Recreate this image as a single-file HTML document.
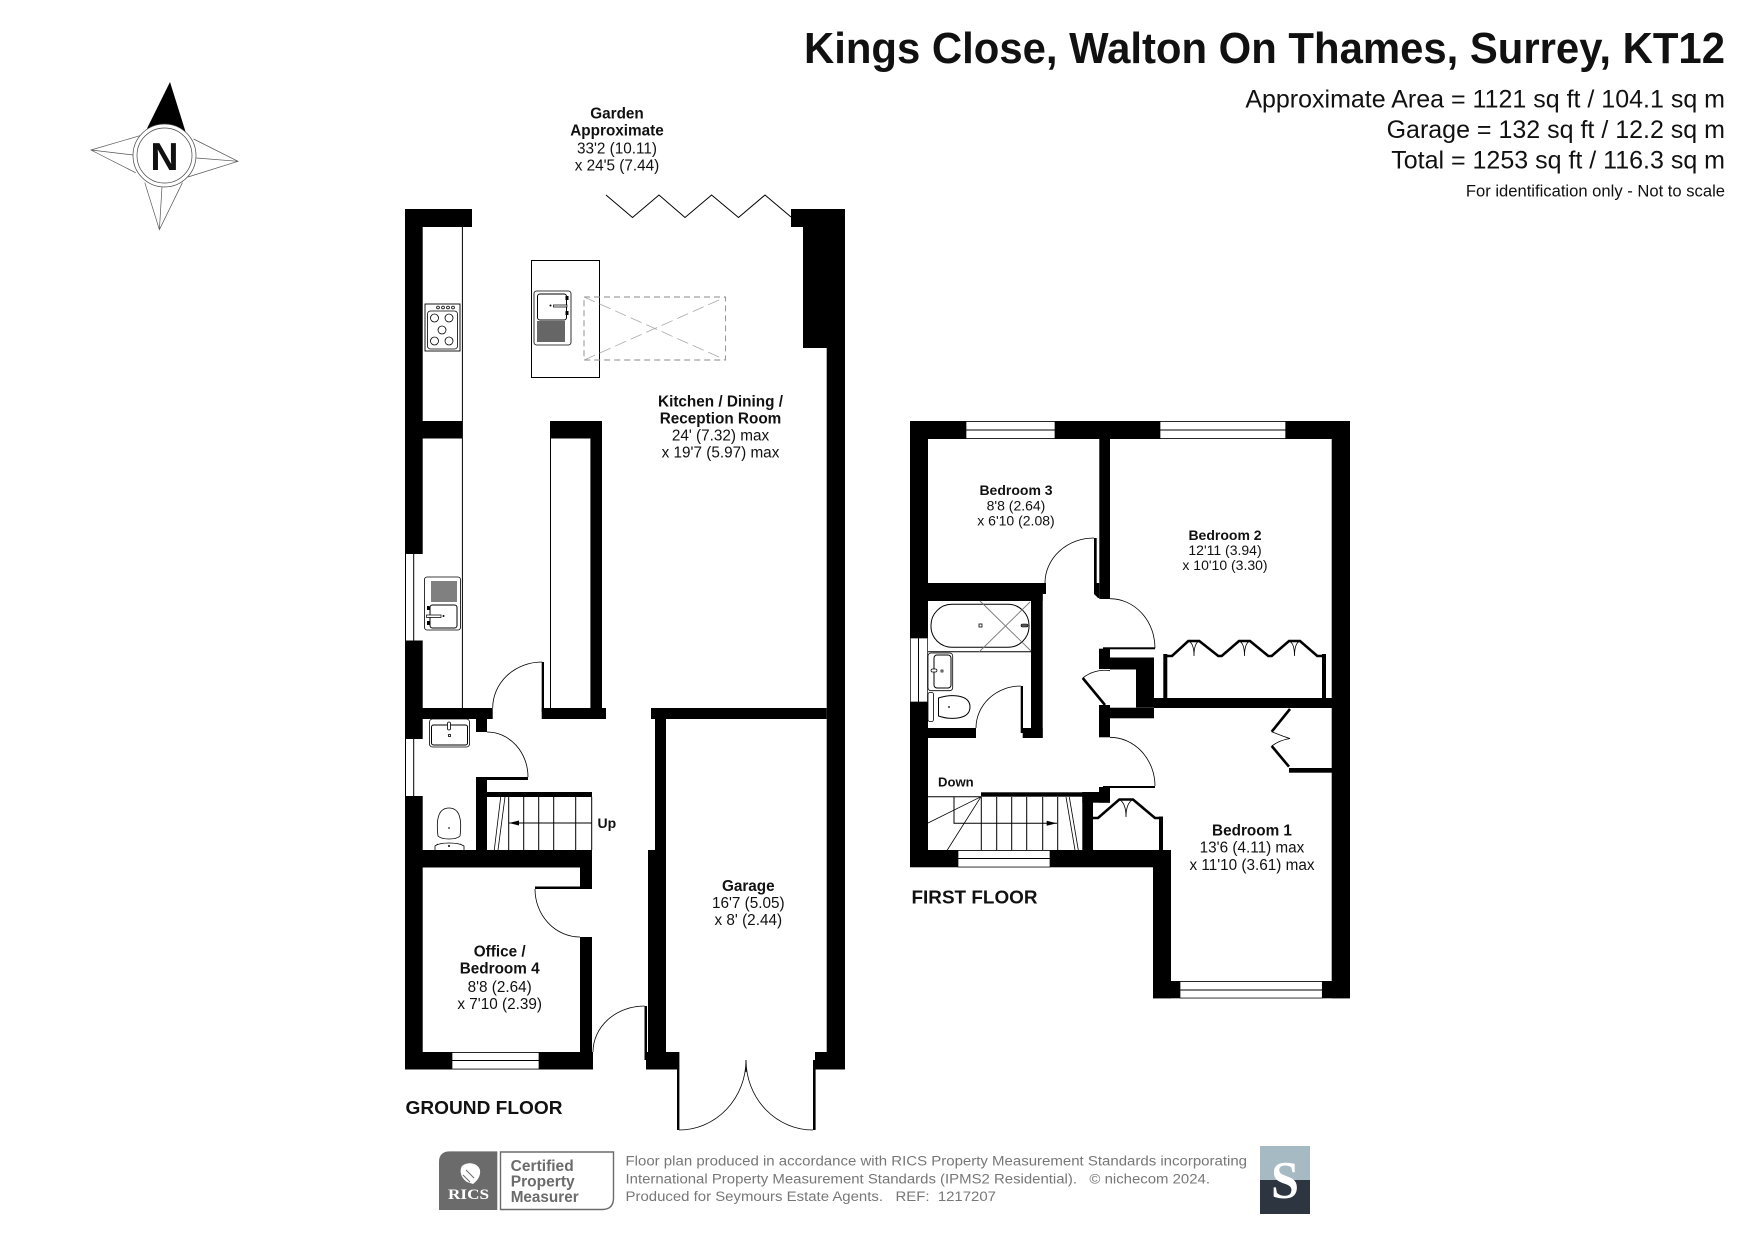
<!DOCTYPE html>
<html><head><meta charset="utf-8"><style>
html,body{margin:0;padding:0;background:#fff}
svg{display:block}
text{font-family:"Liberation Sans",sans-serif;fill:#111;white-space:pre}
.b{font-weight:bold}
.m{text-anchor:middle;font-size:15.3px}
.s{font-size:14px}
.l{fill:none;stroke:#000;stroke-width:1}
.t{fill:none;stroke:#000;stroke-width:.8}
.h{fill:none;stroke:#000;stroke-width:2.6}
.g{fill:none;stroke:#777;stroke-width:.9}
</style></head><body>
<svg width="1755" height="1241" viewBox="0 0 1755 1241" xmlns="http://www.w3.org/2000/svg">
<rect width="1755" height="1241" fill="#fff"/>

<!-- Header -->
<text class="b" x="1725" y="63" text-anchor="end" font-size="44" textLength="921" lengthAdjust="spacingAndGlyphs">Kings Close, Walton On Thames, Surrey, KT12</text>
<text x="1725" y="107.5" text-anchor="end" font-size="25">Approximate Area = 1121 sq ft / 104.1 sq m</text>
<text x="1725" y="138" text-anchor="end" font-size="25">Garage = 132 sq ft / 12.2 sq m</text>
<text x="1725" y="168.5" text-anchor="end" font-size="25">Total = 1253 sq ft / 116.3 sq m</text>
<text x="1725" y="196.5" text-anchor="end" font-size="16.6">For identification only - Not to scale</text>

<!-- Compass -->
<g>
<path d="M147 128.5L170 82L185.8 132.5Z" fill="#000"/>
<path fill="none" stroke="#555" stroke-width=".7" d="M140.3 135.6L91 150L135.8 172.8M91 150L133.6 155M193.6 139L238 161.3L188 177M238 161.3L196.4 158M144.8 182.7L159.4 229.7L182.4 182.7M159.4 229.7L162 186.6"/>
<circle cx="164.5" cy="155.5" r="31.5" fill="#fff" stroke="#444" stroke-width=".7"/>
<circle cx="164.5" cy="155.5" r="27.5" fill="none" stroke="#444" stroke-width=".7"/>
<text class="b" x="164.5" y="170" text-anchor="middle" font-size="39">N</text>
</g>

<!-- Ground floor walls -->
<g fill="#000">
<rect x="405" y="209" width="67" height="18"/>
<rect x="405" y="209" width="17.7" height="345"/>
<rect x="405" y="640.5" width="17.7" height="98.5"/>
<rect x="405" y="796" width="17.7" height="273.5"/>
<path d="M791 209H845V1069.5H815V1052H826.7V348H803V227H791Z"/>
<rect x="422" y="421" width="40.5" height="17.5"/>
<path d="M550 421H602V708H590.4V438.5H550Z"/>
<rect x="422" y="708" width="70.7" height="11"/>
<rect x="476" y="719" width="11" height="13"/>
<rect x="541.7" y="662" width="2.3" height="50"/>
<rect x="541.7" y="708" width="64.3" height="11"/>
<rect x="651" y="708" width="175.7" height="11"/>
<path d="M655 719H666V1052H678V1069.5H646V1052H648V850H655Z"/>
<rect x="644.5" y="1006" width="2.5" height="54"/>
<rect x="476" y="778" width="11" height="75"/>
<rect x="476" y="777" width="52" height="3"/>
<rect x="487" y="792" width="105" height="5"/>
<rect x="405" y="850" width="187" height="17.5"/>
<rect x="580" y="867" width="12" height="21.5"/>
<rect x="535" y="886.5" width="57" height="2.5"/>
<rect x="580" y="937" width="12" height="120"/>
<rect x="405" y="1052" width="188" height="17.5"/>
<rect x="677" y="1052" width="2.4" height="78"/>
<rect x="813" y="1060" width="2.6" height="70"/>
</g>
<!-- Ground floor windows -->
<rect x="405.5" y="554" width="17" height="86.5" fill="#fff"/>
<path class="l" d="M405.5 554V640.5M413.7 554V640.5M405.5 739V796M413.7 739V796"/>
<rect x="452" y="1052.5" width="87" height="16.5" fill="#fff" stroke="#000" stroke-width=".7"/>
<path class="l" d="M452 1060.5H539"/>
<!-- Kitchen lines -->
<path class="l" d="M462.4 227V708M550.5 438V708"/>
<rect x="531.5" y="260.5" width="68" height="117" fill="#fff" stroke="#000" stroke-width="1"/>
<path class="l" d="M606 195L632.5 217.5L659 195L685 217.5L711.6 195L738.5 217.5L765 195L791 217"/>
<!-- Dashed skylight -->
<path d="M584 297H725.6V360H584Z" fill="none" stroke="#888" stroke-width=".9" stroke-dasharray="6 4"/>
<path d="M584 297L725.6 360M584 360L725.6 297" fill="none" stroke="#aaa" stroke-width=".8" stroke-dasharray="12 5"/>
<!-- Hob -->
<rect x="425" y="304" width="35" height="47" fill="#fff" stroke="#000" stroke-width=".9"/>
<rect x="427.5" y="311" width="30" height="38" rx="3" class="t"/>
<g class="t"><circle cx="434.5" cy="318" r="4"/><circle cx="449" cy="318" r="4"/><circle cx="442" cy="330" r="4"/><circle cx="434.5" cy="341" r="4"/><circle cx="449" cy="341" r="4"/>
<circle cx="438" cy="307.5" r="1.4"/><circle cx="443" cy="307.5" r="1.4"/><circle cx="448" cy="307.5" r="1.4"/><circle cx="453" cy="307.5" r="1.4"/></g>
<!-- Island sink -->
<rect x="534" y="291" width="37" height="54" rx="2.5" class="t"/>
<rect x="537.5" y="294" width="29" height="26" rx="2.5" class="l"/>
<path d="M553.5 305H567V307H553.5Z" fill="#fff" stroke="#000" stroke-width=".7"/><circle cx="550.5" cy="305.5" r="1" fill="#000"/>
<rect x="565.5" y="296" width="3" height="4" fill="#000"/><rect x="565.5" y="311" width="3" height="4" fill="#000"/>
<path d="M538 321V342M540 321V342M542 321V342M544 321V342M546 321V342M548 321V342M550 321V342M552 321V342M554 321V342M556 321V342M558 321V342M560 321V342M562 321V342M564 321V342" stroke="#000" stroke-width="1.2"/>
<!-- Wall sink -->
<rect x="424.5" y="577" width="36" height="53" rx="2.5" class="t"/>
<rect x="430" y="605" width="27" height="23" rx="2.5" class="l"/>
<path d="M426.5 615H441V617.5H426.5Z" fill="#fff" stroke="#000" stroke-width=".7"/><circle cx="443.5" cy="616" r="1" fill="#000"/>
<rect x="427" y="606" width="2.5" height="4" fill="#000"/><rect x="427" y="621" width="2.5" height="4" fill="#000"/>
<path d="M432 581V602M434 581V602M436 581V602M438 581V602M440 581V602M442 581V602M444 581V602M446 581V602M448 581V602M450 581V602M452 581V602M454 581V602M456 581V602" stroke="#000" stroke-width="1.2" shape-rendering="crispEdges"/>
<!-- Basin and WC -->
<rect x="429.5" y="719" width="40" height="28" rx="3" class="t"/>
<rect x="431.5" y="725" width="36" height="20" rx="2" class="l"/>
<rect x="447.5" y="722" width="3" height="8" rx="1.5" fill="#fff" stroke="#000" stroke-width=".8"/>
<rect x="448.5" y="734.5" width="2" height="2" fill="#fff" stroke="#000" stroke-width=".8"/>
<path class="t" d="M438 836C436 820 438 808 449 808C460 808 462 820 460 836C456 840 442 840 438 836Z"/>
<path class="t" d="M438 844L435 846V850M460 844L464 846V850M435 846C440 842 458 842 464 846"/>
<circle cx="449" cy="828" r="1" fill="#555"/><circle cx="449" cy="846" r="1" fill="#000"/>
<!-- Doors GF -->
<g class="t">
<path d="M492.7 708A49.3 46 0 0 1 542 662"/>
<path d="M487 732A41 45 0 0 1 528 777"/>
<path d="M535 889A45 48 0 0 0 580 937"/>
<path d="M593 1052A51.5 46 0 0 1 644.5 1006"/>
<path d="M679 1130A67 70 0 0 0 746 1060"/>
<path d="M813 1130A67 70 0 0 1 746 1060"/>
<path d="M746 1060V1072"/>
</g>
<!-- GF stairs -->
<path class="l" d="M508.7 797V850M523.7 797V850M538.7 797V850M553.7 797V850M575.7 797V850M591.7 797V850M508.7 823H591.7"/>
<path class="t" d="M500.7 797L494.3 850M505 797L498 850"/>
<path d="M509 823L519 820.5V825.5Z" fill="#000"/>

<!-- First floor walls -->
<g fill="#000">
<rect x="910" y="421" width="440" height="18"/>
<rect x="910" y="421" width="18" height="217"/>
<rect x="910" y="702" width="18" height="165"/>
<rect x="1331.7" y="421" width="18.3" height="577.3"/>
<rect x="1099.3" y="439" width="10.7" height="160"/>
<path d="M1094 538H1096.7V583H1099.3V598H1098L1094 594Z"/>
<rect x="928" y="583" width="118" height="11"/>
<rect x="928" y="594" width="114.7" height="7"/>
<rect x="1031" y="583" width="11.7" height="155"/>
<rect x="928" y="728" width="48" height="10"/>
<rect x="1022.7" y="728" width="20" height="10"/>
<rect x="1020.7" y="686" width="2.3" height="47"/>
<rect x="1099" y="648.7" width="11" height="20.3"/>
<rect x="1103" y="647.3" width="52" height="2"/>
<rect x="1110" y="657.5" width="44" height="12"/>
<rect x="1136" y="657.5" width="18" height="50"/>
<rect x="1154" y="698" width="178" height="10"/>
<rect x="1110" y="707.7" width="44" height="10.6"/>
<rect x="1099" y="705" width="11" height="32.3"/>
<rect x="1103" y="786" width="52" height="2"/>
<rect x="1099" y="787" width="11" height="15.7"/>
<rect x="1082.3" y="792" width="27.7" height="10.7"/>
<rect x="981" y="792.3" width="118" height="4.4"/>
<rect x="1082.3" y="792" width="10.7" height="58"/>
<rect x="910" y="850" width="261" height="17.3"/>
<rect x="1153" y="850" width="18" height="148.3"/>
<rect x="1153" y="981" width="197" height="17.3"/>
<rect x="1163.3" y="654" width="4" height="44"/>
<rect x="1322" y="654" width="4" height="44"/>
<rect x="1159" y="816.5" width="4" height="34"/>
<rect x="1289" y="768" width="43" height="4.7"/>
</g>
<!-- FF windows -->
<g fill="#fff" stroke="#000" stroke-width=".7">
<rect x="966" y="421.5" width="89" height="17"/>
<rect x="1160" y="421.5" width="125.7" height="17"/>
<rect x="958" y="850.5" width="92" height="16.5"/>
<rect x="1180" y="981.5" width="142.3" height="16.5"/>
<rect x="910.5" y="638" width="17" height="64"/>
</g>
<path class="l" d="M966 430H1055M1160 430H1285.7M958 858.5H1050M1180 990H1322.3M918.5 638V702"/>
<!-- FF doors -->
<g class="t">
<path d="M1045 583A49 45 0 0 1 1094 538"/>
<path d="M1110 598.7A45 49.5 0 0 1 1155 648.3"/>
<path d="M976 728A44.7 42 0 0 1 1020.7 686"/>
<path d="M1110 737.3A45 49 0 0 1 1155 786"/>
<path d="M1082.7 678A35 35 0 0 1 1110 670.7"/>
</g>
<path d="M1082.7 678L1105 705" class="h"/>
<!-- Wardrobe bed 2 -->
<path class="h" d="M1165 656H1172L1188.3 641H1199.3L1218.3 656H1221.7L1239 641H1250L1268.3 656H1271.7L1289 641H1300L1317.3 656H1324"/>
<path class="t" d="M1188.3 641Q1194 643 1194 656M1199.3 641Q1194 643 1194 656M1239 641Q1244.5 643 1244.5 656M1250 641Q1244.5 643 1244.5 656M1289 641Q1294.5 643 1294.5 656M1300 641Q1294.5 643 1294.5 656"/>
<!-- Wardrobe bed 1 top -->
<path class="h" d="M1290 709L1271.7 731.7M1271.7 746L1289 766.7"/>
<path class="t" d="M1271.7 731.7Q1285 737 1290 738.5Q1280 740 1271.7 746"/>
<!-- Wardrobe landing -->
<path class="h" d="M1093 818H1098L1119.3 799.5H1133L1155 818H1161"/>
<path class="t" d="M1119.3 799.5Q1126 803 1126 817M1133 799.5Q1126 803 1126 817"/>
<!-- FF stairs -->
<path class="l" d="M981.3 797V850M996.7 797V850M1011.7 797V850M1026.7 797V850M1042.7 797V850M1057.7 797V850M928 796.7H981M954 796.7V823.3H1057"/>
<path class="t" d="M981 796.7L928 823M981 796.7L947.3 850M1066 797L1075 850M1069.3 797L1078.3 850"/>
<path d="M1056.7 823.3L1046.7 820.8V825.8Z" fill="#000"/>
<!-- Bathroom -->
<path class="l" d="M928 651.7H1031"/>
<rect x="931" y="604.3" width="98" height="43" rx="21" class="l"/>
<path class="g" d="M980 601L1031 651M979 652L1030 602"/>
<rect x="979" y="624" width="3" height="3" fill="#fff" stroke="#000" stroke-width=".8"/>
<rect x="1021" y="624" width="7" height="3" rx="1.5" fill="#555" stroke="#000" stroke-width=".6"/>
<rect x="928" y="653" width="24.7" height="37.7" rx="3" class="t"/>
<rect x="934" y="655" width="17" height="33" rx="3" class="l"/>
<rect x="931" y="669" width="6" height="3" rx="1.5" fill="#fff" stroke="#000" stroke-width=".7"/>
<rect x="941" y="670" width="2" height="2" fill="#fff" stroke="#000" stroke-width=".7"/>
<rect x="928" y="692.5" width="5.5" height="29" rx="2" class="t"/>
<path class="l" d="M938.5 698C950 694 970 694 970 707C970 720 950 720 938.5 716Z"/>
<circle cx="949" cy="707" r="1" fill="#333"/>

<!-- Labels -->
<g>
<text class="b m" x="617" y="118.5">Garden</text>
<text class="b m" x="617" y="135.5">Approximate</text>
<text class="m" x="617" y="153.5">33'2 (10.11)</text>
<text class="m" x="617" y="170.5">x 24'5 (7.44)</text>
<text class="b m" x="720.5" y="406.5">Kitchen / Dining /</text>
<text class="b m" x="720.5" y="423.5">Reception Room</text>
<text class="m" x="720.5" y="440.5">24' (7.32) max</text>
<text class="m" x="720.5" y="457.5">x 19'7 (5.97) max</text>
<text class="b m" x="748.3" y="891">Garage</text>
<text class="m" x="748.3" y="908">16'7 (5.05)</text>
<text class="m" x="748.3" y="925">x 8' (2.44)</text>
<text class="b m" x="499.7" y="956.5">Office /</text>
<text class="b m" x="499.7" y="973.5">Bedroom 4</text>
<text class="m" x="499.7" y="992">8'8 (2.64)</text>
<text class="m" x="499.7" y="1009">x 7'10 (2.39)</text>
<text class="b" x="597.5" y="828" font-size="14">Up</text>
<text class="b" x="405.5" y="1114" font-size="18.6" textLength="157" lengthAdjust="spacingAndGlyphs">GROUND FLOOR</text>
<text class="b m" style="font-size:14px" x="1016" y="495">Bedroom 3</text>
<text class="m" style="font-size:14px" x="1016" y="510.5">8'8 (2.64)</text>
<text class="m" style="font-size:14px" x="1016" y="525.5">x 6'10 (2.08)</text>
<text class="b m" style="font-size:14px" x="1225" y="540">Bedroom 2</text>
<text class="m" style="font-size:14px" x="1225" y="555">12'11 (3.94)</text>
<text class="m" style="font-size:14px" x="1225" y="570">x 10'10 (3.30)</text>
<text class="b m" x="1252" y="835.5">Bedroom 1</text>
<text class="m" x="1252" y="852.5">13'6 (4.11) max</text>
<text class="m" x="1252" y="870">x 11'10 (3.61) max</text>
<text class="b" x="938" y="786.5" font-size="13" textLength="35.7" lengthAdjust="spacingAndGlyphs">Down</text>
<text class="b" x="911.5" y="903.5" font-size="18.6" textLength="126" lengthAdjust="spacingAndGlyphs">FIRST FLOOR</text>
</g>

<!-- Footer -->
<path d="M439 1210V1162Q439 1151.4 450 1151.4H497.3V1210Z" fill="#6b6b6b"/>
<path d="M500.5 1152H613.5V1198Q613.5 1209.5 602 1209.5H500.5Z" fill="#fff" stroke="#6b6b6b" stroke-width="1.4"/>
<path d="M462 1166C468 1161 478 1163 480 1170C481 1176 477 1181 473 1184L467 1182C461 1178 459 1171 462 1166Z" fill="#fff"/>
<path d="M466 1170L474 1178M463 1175L470 1182" stroke="#6b6b6b" stroke-width="1"/>
<text x="448" y="1199" font-size="14.5" font-weight="bold" textLength="41" lengthAdjust="spacingAndGlyphs" style="font-family:'Liberation Serif',serif;fill:#fff">RICS</text>
<g style="font-size:15.5px;font-weight:bold">
<text x="510.7" y="1171" textLength="63" lengthAdjust="spacingAndGlyphs" style="fill:#6b6b6b">Certified</text>
<text x="510.7" y="1186.7" textLength="64" lengthAdjust="spacingAndGlyphs" style="fill:#6b6b6b">Property</text>
<text x="510.7" y="1202" textLength="68" lengthAdjust="spacingAndGlyphs" style="fill:#6b6b6b">Measurer</text>
</g>
<g font-size="14.2">
<text x="625.5" y="1165.5" textLength="621.5" lengthAdjust="spacingAndGlyphs" style="fill:#777">Floor plan produced in accordance with RICS Property Measurement Standards incorporating</text>
<text x="625.5" y="1183.3" textLength="584.5" lengthAdjust="spacingAndGlyphs" style="fill:#777">International Property Measurement Standards (IPMS2 Residential).   © nichecom 2024.</text>
<text x="625.5" y="1201" textLength="370.5" lengthAdjust="spacingAndGlyphs" style="fill:#777">Produced for Seymours Estate Agents.   REF:  1217207</text>
</g>
<rect x="1260" y="1146" width="50" height="34" fill="#a6bac4"/>
<rect x="1260" y="1180" width="50" height="34" fill="#2d3540"/>
<text x="1285" y="1198" text-anchor="middle" font-size="53" font-weight="bold" textLength="28" lengthAdjust="spacingAndGlyphs" style="font-family:'Liberation Serif',serif;fill:#fff">S</text>
</svg>
</body></html>
